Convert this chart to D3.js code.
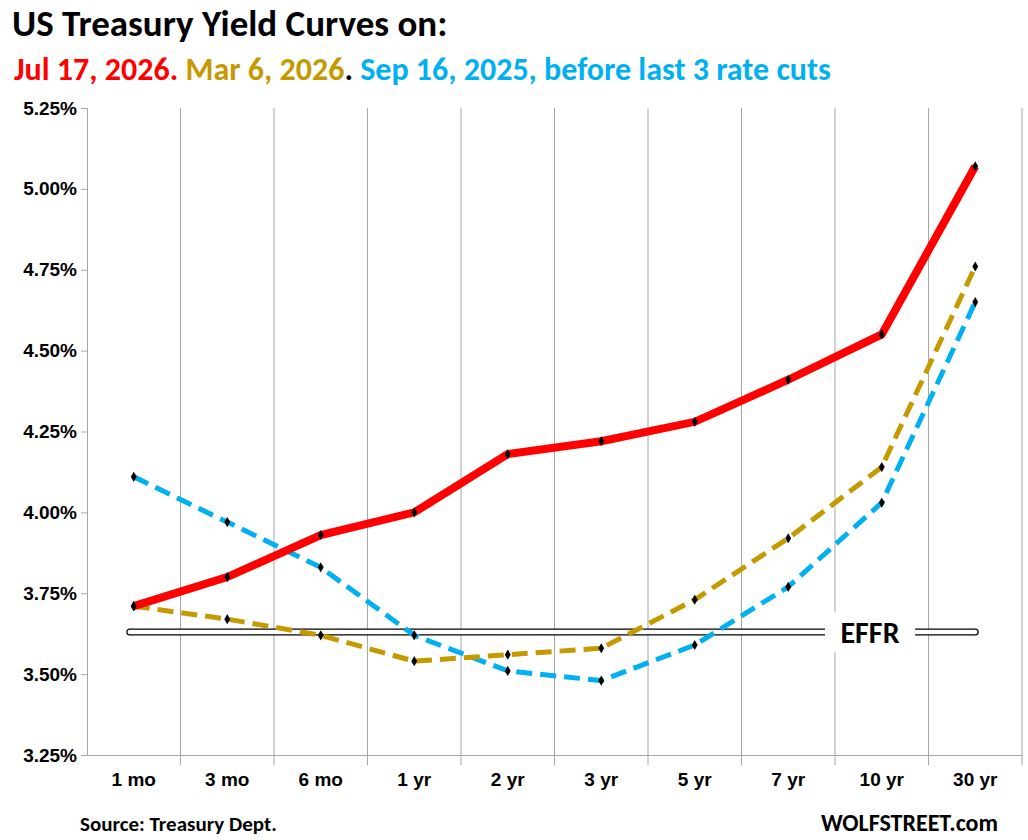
<!DOCTYPE html>
<html>
<head>
<meta charset="utf-8">
<script src="https://cdn.jsdelivr.net/npm/d3@7"></script>
<style>
  body { margin: 0; background: #fff; font-family: Calibri, Carlito, "Liberation Sans", Arial, sans-serif; }
  .tick text { font-size: 19px; font-weight: bold; fill: #000; }
</style>
</head>
<body>
<div id="chart"></div>
<script>
const maturities = ["1 mo", "3 mo", "6 mo", "1 yr", "2 yr", "3 yr", "5 yr", "7 yr", "10 yr", "30 yr"];
const jul2026 = [3.71, 3.80, 3.93, 4.00, 4.18, 4.22, 4.28, 4.41, 4.55, 5.07];
const mar2026 = [3.71, 3.67, 3.62, 3.54, 3.56, 3.58, 3.73, 3.92, 4.14, 4.76];
const sep2025 = [4.11, 3.97, 3.83, 3.62, 3.51, 3.48, 3.59, 3.77, 4.03, 4.65];
const yTicks = [3.25, 3.5, 3.75, 4.0, 4.25, 4.5, 4.75, 5.0, 5.25];
const effr = 3.63;

const W = 1028, H = 840;
const margin = { top: 108, right: 6, bottom: 85, left: 87 };
const width = W - margin.left - margin.right;
const height = H - margin.top - margin.bottom;

const root = d3.select("#chart").append("svg").attr("width", W).attr("height", H);
const svg = root.append("g").attr("transform", `translate(${margin.left},${margin.top})`);

const x = d3.scaleBand().domain(maturities).range([0, width]);
const y = d3.scaleLinear().domain([3.25, 5.25]).range([height, 0]);

// vertical grid at band edges
svg.selectAll(".vgrid").data(maturities).enter().append("line")
  .attr("x1", d => x(d) + x.bandwidth()).attr("x2", d => x(d) + x.bandwidth())
  .attr("y1", 0).attr("y2", height + 10)
  .attr("stroke", "#a6a6a6").attr("stroke-width", 1);

// axes
svg.append("g").attr("transform", `translate(0,${height})`)
  .call(d3.axisBottom(x).tickSize(0).tickPadding(18))
  .call(g => g.select(".domain").attr("stroke", "#a6a6a6"));
svg.append("g")
  .call(d3.axisLeft(y).tickValues(yTicks).tickFormat(d => d.toFixed(2) + "%").tickSize(6).tickPadding(4))
  .call(g => g.selectAll("line, .domain").attr("stroke", "#a6a6a6"));

// EFFR double line
const ex0 = x(maturities[0]) + x.bandwidth() / 2 - 4, ex1 = x("30 yr") + x.bandwidth() / 2;
svg.append("line").attr("x1", ex0).attr("x2", ex1).attr("y1", y(effr)).attr("y2", y(effr))
  .attr("stroke", "#000").attr("stroke-width", 7).attr("stroke-linecap", "round");
svg.append("line").attr("x1", ex0).attr("x2", ex1).attr("y1", y(effr)).attr("y2", y(effr))
  .attr("stroke", "#fff").attr("stroke-width", 4.6).attr("stroke-linecap", "round");
const lx = x("10 yr") + 35;
svg.append("rect").attr("x", lx - 45).attr("y", y(effr) - 20).attr("width", 90).attr("height", 40).attr("fill", "#fff");
svg.append("text").attr("x", lx).attr("y", y(effr) + 11).attr("text-anchor", "middle")
  .attr("font-size", 30).attr("font-weight", "bold").text("EFFR");

const line = d3.line().x((d, i) => x(maturities[i]) + x.bandwidth() / 2).y(d => y(d));
const series = [
  { data: sep2025, color: "#00b0f0", dash: "16,8", w: 5 },
  { data: mar2026, color: "#c59a00", dash: "16,8", w: 5 },
  { data: jul2026, color: "#ff0000", dash: null, w: 8 }
];
series.forEach(s => {
  svg.append("path").datum(s.data).attr("d", line).attr("fill", "none")
    .attr("stroke", s.color).attr("stroke-width", s.w).attr("stroke-dasharray", s.dash);
  svg.selectAll(null).data(s.data).enter().append("path")
    .attr("d", d3.symbol(d3.symbolDiamond, 30))
    .attr("transform", (d, i) => `translate(${x(maturities[i]) + x.bandwidth() / 2},${y(d)})`)
    .attr("fill", "#000");
});

// titles
root.append("text").attr("x", 12).attr("y", 36).attr("font-size", 37).attr("font-weight", "bold").text("US Treasury Yield Curves on:");
const t2 = root.append("text").attr("x", 14).attr("y", 80).attr("font-size", 32).attr("font-weight", "bold");
t2.append("tspan").attr("fill", "#ff0000").text("Jul 17, 2026.");
t2.append("tspan").attr("fill", "#c59a00").text(" Mar 6, 2026");
t2.append("tspan").attr("fill", "#000").text(".");
t2.append("tspan").attr("fill", "#00b0f0").text(" Sep 16, 2025, before last 3 rate cuts");

root.append("text").attr("x", 80).attr("y", 831).attr("font-size", 21).attr("font-weight", "bold").text("Source: Treasury Dept.");
root.append("text").attr("x", 998).attr("y", 831).attr("text-anchor", "end").attr("font-size", 24).attr("font-weight", "bold").text("WOLFSTREET.com");
</script>
</body>
</html>
